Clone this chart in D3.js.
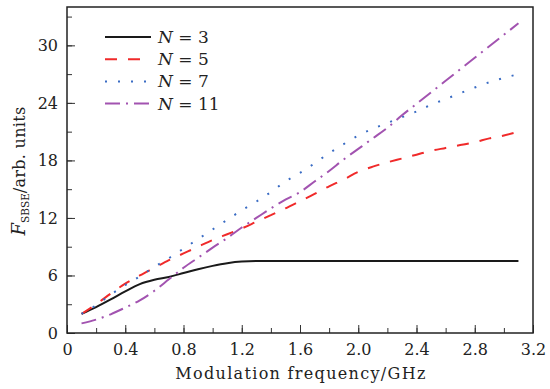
<!DOCTYPE html>
<html><head><meta charset="utf-8">
<script src="https://cdn.jsdelivr.net/npm/d3@7"></script>
<style>body{margin:0;background:#fff}svg{display:block}text{font-family:"DejaVu Serif",serif;fill:#222}</style>
</head><body>
<script>
const xs = [0.1,0.2,0.3,0.4,0.5,0.6,0.7,0.8,0.9,1.0,1.1,1.2,1.3,1.4,1.5,1.6,1.7,1.8,1.9,2.0,2.1,2.2,2.3,2.4,2.5,2.6,2.7,2.8,2.9,3.0,3.1];
const n3  = [2.0,2.7,3.5,4.35,5.1,5.55,5.85,6.25,6.65,7.0,7.28,7.45,7.5,7.5,7.5,7.5,7.5,7.5,7.5,7.5,7.5,7.5,7.5,7.5,7.5,7.5,7.5,7.5,7.5,7.5,7.5];
const n5  = [2.0,3.0,4.1,5.15,6.0,6.8,7.6,8.3,9.0,9.7,10.3,10.9,11.6,12.3,13.0,13.75,14.5,15.3,16.0,16.8,17.35,17.8,18.2,18.6,19.0,19.3,19.6,19.9,20.3,20.6,21.0];
const n7  = [2.0,2.9,4.0,5.0,5.9,6.9,7.8,8.8,9.8,10.8,11.8,12.8,13.7,14.7,15.8,16.7,17.7,18.75,19.7,20.6,21.3,21.9,22.5,23.1,23.8,24.4,25.0,25.6,26.15,26.6,27.0];
const n11 = [1.0,1.4,1.95,2.65,3.4,4.4,5.6,6.8,7.85,8.9,9.9,11.0,12.0,13.0,13.9,14.7,15.8,16.9,18.1,19.2,20.3,21.4,22.7,23.9,25.1,26.3,27.5,28.7,29.9,31.1,32.3];
const series = [
  {name:"3", values:n3, color:"#1a1a1a", dash:null, width:2},
  {name:"5", values:n5, color:"#f02a2a", dash:"12,11", width:2},
  {name:"7", values:n7, color:"#3a6cc4", dash:"2,11", width:2},
  {name:"11", values:n11, color:"#a253b0", dash:"15,6,2,6", width:2}
];
const xTicks = [0,0.4,0.8,1.2,1.6,2.0,2.4,2.8,3.2];
const xTickLabels = ["0","0.4","0.8","1.2","1.6","2.0","2.4","2.8","3.2"];
const yTicks = [0,6,12,18,24,30];

const W=550,H=389;
const m={l:67,t:7,r:17,b:56};
const svg=d3.select("body").append("svg").attr("width",W).attr("height",H);
const x=d3.scaleLinear().domain([0,3.2]).range([m.l,W-m.r]);
const y=d3.scaleLinear().domain([0,34]).range([H-m.b,m.t]);

const g=svg.append("g");
g.append("g").attr("transform",`translate(0,${H-m.b})`)
 .call(d3.axisBottom(x).tickValues(d3.range(0,3.21,0.2)).tickSize(-5).tickFormat(""))
 .call(s=>s.select(".domain").remove());
g.append("g").attr("transform",`translate(${m.l},0)`)
 .call(d3.axisLeft(y).tickValues(d3.range(0,34,3)).tickSize(-5).tickFormat(""))
 .call(s=>s.select(".domain").remove());
const xa=g.append("g").attr("transform",`translate(0,${H-m.b})`)
 .call(d3.axisBottom(x).tickValues(xTicks).tickSize(-8).tickPadding(11).tickFormat((d,i)=>xTickLabels[i]));
const ya=g.append("g").attr("transform",`translate(${m.l},0)`)
 .call(d3.axisLeft(y).tickValues(yTicks).tickSize(-8).tickPadding(9).tickFormat(d3.format("d")));
[xa,ya].forEach(a=>{a.attr("font-family",null).attr("font-size",null);a.select(".domain").remove();a.selectAll("text").attr("font-size",16).attr("fill","#222");});
svg.selectAll(".tick line").attr("stroke","#333").attr("stroke-width",1);
svg.append("rect").attr("x",m.l).attr("y",m.t).attr("width",W-m.r-m.l).attr("height",H-m.b-m.t)
 .attr("fill","none").attr("stroke","#222").attr("stroke-width",1.5);

const line=d3.line().x((d,i)=>x(xs[i])).y(d=>y(d)).curve(d3.curveMonotoneX);
series.forEach(s=>{
  svg.append("path").datum(s.values).attr("d",line).attr("fill","none")
   .attr("stroke",s.color).attr("stroke-width",s.width)
   .attr("stroke-dasharray",s.dash);
});

const lg=svg.append("g");
series.forEach((s,i)=>{
  const yy=37+i*22.2;
  lg.append("line").attr("x1",105).attr("x2",151).attr("y1",yy).attr("y2",yy)
   .attr("stroke",s.color).attr("stroke-width",2).attr("stroke-dasharray",s.dash);
  const t=lg.append("text").attr("x",158).attr("y",yy+6).attr("font-size",17);
  t.append("tspan").attr("font-style","italic").text("N");
  t.append("tspan").text(" = "+s.name);
});

function fit(t,w){const n=t.text().length;const L=t.node().getComputedTextLength();t.attr("letter-spacing",(w-L)/(n-1));}
const xl=svg.append("text").attr("x",301).attr("y",379).attr("text-anchor","middle").attr("font-size",16)
 .text("Modulation frequency/GHz");
fit(xl,250);
const yl=svg.append("text").attr("transform","translate(25,171) rotate(-90)").attr("text-anchor","middle").attr("font-size",16);
yl.append("tspan").attr("font-style","italic").attr("font-size",18).text("F");
yl.append("tspan").attr("font-size",10.5).attr("dy",4).text("SBSE");
yl.append("tspan").attr("dy",-4).attr("letter-spacing",0.3).text("/arb. units");
</script>
</body></html>
